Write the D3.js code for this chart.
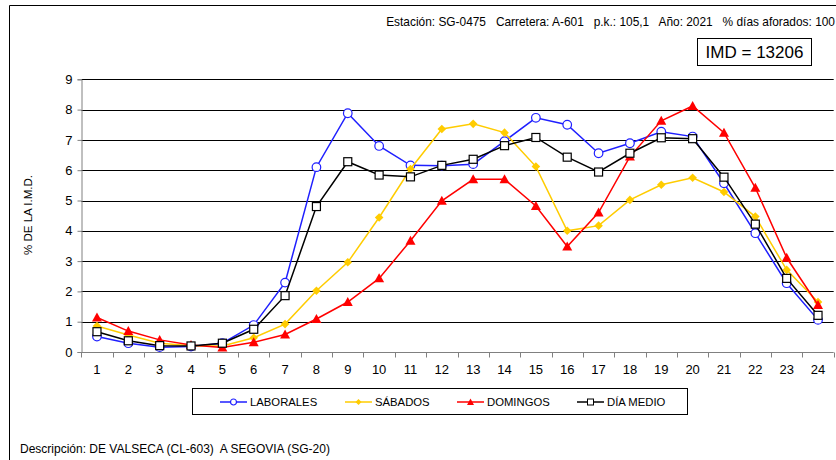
<!DOCTYPE html>
<html>
<head>
<meta charset="utf-8">
<script src="https://cdn.jsdelivr.net/npm/d3@7"></script>
<style>
  html, body { margin: 0; padding: 0; background: #fff; }
  svg { display: block; font-family: Arial, "Liberation Sans", sans-serif; }
</style>
</head>
<body>
<svg id="chart" width="836" height="460"></svg>
<script>
// Hourly distribution of traffic (% of daily IMD), station SG-0475
const hours = d3.range(1, 25);
const yTicks = [0, 1, 2, 3, 4, 5, 6, 7, 8, 9];

const laborales = [0.51, 0.29, 0.16, 0.18, 0.29, 0.89, 2.29, 6.10, 7.88, 6.80, 6.16, 6.15,
                   6.20, 6.96, 7.73, 7.50, 6.56, 6.89, 7.27, 7.11, 5.57, 3.92, 2.27, 1.06];
const sabados   = [0.86, 0.56, 0.29, 0.21, 0.20, 0.47, 0.92, 2.02, 2.96, 4.44, 6.04, 7.36,
                   7.53, 7.24, 6.12, 4.00, 4.17, 5.02, 5.52, 5.75, 5.28, 4.47, 2.71, 1.65];
const domingos  = [1.14, 0.69, 0.40, 0.23, 0.15, 0.32, 0.58, 1.09, 1.65, 2.43, 3.67, 4.99,
                   5.70, 5.70, 4.82, 3.48, 4.60, 6.45, 7.63, 8.12, 7.24, 5.42, 3.11, 1.55];
const diaMedio  = [0.67, 0.37, 0.21, 0.20, 0.29, 0.75, 1.86, 4.80, 6.28, 5.84, 5.78, 6.16,
                   6.36, 6.81, 7.08, 6.43, 5.94, 6.56, 7.07, 7.04, 5.77, 4.22, 2.43, 1.21];

const seriesNames = ["LABORALES", "SÁBADOS", "DOMINGOS", "DÍA MEDIO"];
const seriesValues = [laborales, sabados, domingos, diaMedio];

const headerText = "Estación: SG-0475   Carretera: A-601   p.k.: 105,1   Año: 2021   % días aforados: 100";
const imdText = "IMD = 13206";
const yTitle = "% DE LA I.M.D.";
const description = "Descripción: DE VALSECA (CL-603)  A SEGOVIA (SG-20)";

const styles = [
  { color: "#1f1fff", marker: "circle" },
  { color: "#ffcc00", marker: "diamond" },
  { color: "#ff0000", marker: "triangle" },
  { color: "#000000", marker: "square" }
];

const svg = d3.select("#chart");

// Page frame (top and left edges)
svg.append("path")
  .attr("d", "M9.5,460 V5.5 H836")
  .attr("fill", "none").attr("stroke", "#000").attr("stroke-width", 1);

// Header, right edge flush with the page
svg.append("text")
  .attr("x", 835).attr("y", 26).attr("text-anchor", "end")
  .attr("font-size", 11.9).attr("xml:space", "preserve")
  .style("white-space", "pre")
  .text(headerText);

// IMD box
svg.append("rect")
  .attr("x", 697.5).attr("y", 38.5).attr("width", 114).attr("height", 27)
  .attr("fill", "#fff").attr("stroke", "#000");
svg.append("text")
  .attr("x", 754.5).attr("y", 58).attr("text-anchor", "middle")
  .attr("font-size", 17).text(imdText);

// Scales
const plot = { left: 81.3, right: 833.7, top: 79.3, bottom: 352 };
const x = d3.scaleBand().domain(hours).range([plot.left, plot.right]);
const y = d3.scaleLinear().domain([0, 9]).range([plot.bottom, plot.top]);
const cx = h => x(h) + x.bandwidth() / 2;

// Horizontal gridlines
svg.append("g")
  .selectAll("line")
  .data(yTicks.filter(t => t > 0))
  .join("line")
  .attr("x1", plot.left).attr("x2", plot.right)
  .attr("y1", d => Math.round(y(d)) + 0.5).attr("y2", d => Math.round(y(d)) + 0.5)
  .attr("stroke", "#000").attr("stroke-width", 1);

// Y axis
const yAxis = svg.append("g")
  .attr("transform", `translate(${Math.round(plot.left) + 0.5},0)`)
  .call(d3.axisLeft(y).tickValues(yTicks).tickSize(4).tickPadding(5).tickFormat(d3.format("d")));
yAxis.select(".domain").attr("stroke", "#808080");
yAxis.selectAll(".tick line").attr("stroke", "#808080");
yAxis.selectAll("text").attr("font-size", 13).attr("fill", "#000")
  .attr("font-family", "Arial, 'Liberation Sans', sans-serif");

// X axis: ticks on the category boundaries
const xAxisG = svg.append("g")
  .attr("transform", `translate(0,${Math.round(plot.bottom) + 0.5})`);
xAxisG.append("line")
  .attr("x1", plot.left).attr("x2", plot.right)
  .attr("stroke", "#808080");
xAxisG.selectAll("line.tk")
  .data(hours.concat([25]))
  .join("line").attr("class", "tk")
  .attr("x1", d => Math.round(d <= 24 ? x(d) : plot.right) + 0.5)
  .attr("x2", d => Math.round(d <= 24 ? x(d) : plot.right) + 0.5)
  .attr("y1", 0).attr("y2", 5)
  .attr("stroke", "#808080");
xAxisG.selectAll("text")
  .data(hours)
  .join("text")
  .attr("x", d => cx(d)).attr("y", 21)
  .attr("text-anchor", "middle").attr("font-size", 13)
  .text(d => d);

// Y axis title
svg.append("text")
  .attr("transform", "translate(32,215) rotate(-90)")
  .attr("text-anchor", "middle").attr("font-size", 11.5)
  .text(yTitle);

// Marker drawing helper
function drawMarker(sel, type, color) {
  if (type === "circle") {
    sel.append("circle").attr("r", 4.3).attr("fill", "#fff")
      .attr("stroke", color).attr("stroke-width", 1.2);
  } else if (type === "diamond") {
    sel.append("path").attr("d", "M0,-4.3 L4.3,0 L0,4.3 L-4.3,0 Z").attr("fill", color);
  } else if (type === "triangle") {
    sel.append("path").attr("d", "M0,-5 L5,4 L-5,4 Z").attr("fill", color);
  } else {
    sel.append("rect").attr("x", -4).attr("y", -4).attr("width", 8).attr("height", 8)
      .attr("fill", "#fff").attr("stroke", color).attr("stroke-width", 1.2);
  }
}

// Series lines and markers
const line = d3.line().x((d, i) => cx(hours[i])).y(d => y(d));
seriesValues.forEach((vals, si) => {
  const st = styles[si];
  const g = svg.append("g");
  g.append("path").datum(vals)
    .attr("d", line).attr("fill", "none")
    .attr("stroke", st.color).attr("stroke-width", 1.5);
  g.selectAll("g.m").data(vals).join("g").attr("class", "m")
    .attr("transform", (d, i) => `translate(${cx(hours[i])},${y(d)})`)
    .each(function () { drawMarker(d3.select(this), st.marker, st.color); });
});

// Legend
svg.append("rect")
  .attr("x", 192.5).attr("y", 388.5).attr("width", 495).attr("height", 26)
  .attr("fill", "#fff").attr("stroke", "#000");
const legendX = [220, 345, 457, 577];
seriesNames.forEach((name, i) => {
  const st = styles[i];
  const g = svg.append("g").attr("transform", `translate(${legendX[i]},402)`);
  g.append("line").attr("x1", 0).attr("x2", 27)
    .attr("stroke", st.color).attr("stroke-width", 1.5);
  const m = g.append("g").attr("transform", "translate(13.5,0)");
  if (st.marker === "circle") {
    m.append("circle").attr("r", 3).attr("fill", "#fff").attr("stroke", st.color).attr("stroke-width", 1.2);
  } else if (st.marker === "diamond") {
    m.append("path").attr("d", "M0,-3 L3,0 L0,3 L-3,0 Z").attr("fill", st.color);
  } else if (st.marker === "triangle") {
    m.append("path").attr("d", "M0,-3.5 L3.5,3 L-3.5,3 Z").attr("fill", st.color);
  } else {
    m.append("rect").attr("x", -3).attr("y", -3).attr("width", 6).attr("height", 6)
      .attr("fill", "#fff").attr("stroke", st.color).attr("stroke-width", 1);
  }
  g.append("text").attr("x", 30).attr("y", 4.2)
    .attr("font-size", 11.3).text(name);
});

// Description
svg.append("text")
  .attr("x", 20).attr("y", 453)
  .attr("font-size", 12)
  .style("white-space", "pre")
  .text(description);
</script>
</body>
</html>
